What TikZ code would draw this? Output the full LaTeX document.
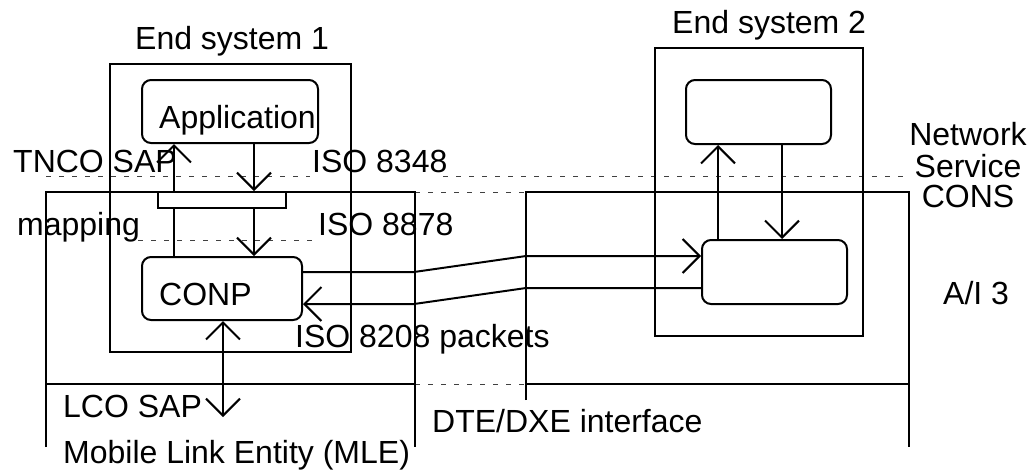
\documentclass[tikz,border=0pt]{standalone}
\usepackage{fontspec}
\setmainfont{Liberation Sans}
\usetikzlibrary{arrows.meta}
\begin{document}
\begin{tikzpicture}[x=1pt,y=-1pt,
  frame/.style={line width=2pt},
  sbox/.style={draw, rectangle, line width=2pt, inner sep=0pt},
  rbox/.style={sbox, rounded corners=9pt},
  lbl/.style={anchor=base west, inner sep=0pt, font=\fontsize{32}{38}\selectfont},
  clbl/.style={lbl, anchor=base},
  barb/.tip={Straight Barb[length=17pt,width=34pt,line width=2pt]},
  arr/.style={line width=2pt, -barb},
  darr/.style={line width=2pt, barb-barb},
  sep/.style={draw=black!75, line width=0.9pt, dash pattern=on 5pt off 8pt},
]
\useasboundingbox (0,0) rectangle (1035,475);

% layer boundaries
\draw[sep] (46,176) -- (310,176);
\draw[sep] (443,176) -- (907,176);
\draw[sep] (138,240) -- (316,240);
\draw[sep] (415,192) -- (526,192);
\draw[sep] (415,384) -- (526,384);

% end systems
\node[sbox, minimum width=241pt, minimum height=288pt] (es1) at (230.5,208) {};
\node[sbox, minimum width=208pt, minimum height=288pt] (es2) at (759,192) {};

% mobile link entity and the network side
\draw[frame] (46,447) -- (46,192) -- (415,192) -- (415,447);
\draw[frame] (46,384) -- (415,384);
\draw[frame] (526,400) -- (526,192) -- (909,192) -- (909,447);
\draw[frame] (526,384) -- (909,384);

% entities of end system 1
\node[rbox, minimum width=176pt, minimum height=63pt] (app) at (230,111.5) {};
\node[sbox, fill=white, minimum width=128pt, minimum height=16pt] (bar) at (222,200) {};
\node[rbox, minimum width=160pt, minimum height=63pt] (conp) at (222,288.5) {};

% entities of end system 2
\node[rbox, minimum width=145pt, minimum height=64pt] (app2) at (758.5,112) {};
\node[rbox, minimum width=145pt, minimum height=64pt] (conp2) at (774.5,272) {};

% vertical service paths
\coordinate (xl) at (174,0);
\coordinate (xr) at (254,0);
\coordinate (xm) at (223,0);
\coordinate (lco) at (223,417);
\draw[arr] (bar.north -| xl) -- (app.south -| xl);
\draw[arr] (app.south -| xr) -- (bar.north -| xr);
\draw[frame] (bar.south -| xl) -- (conp.north -| xl);
\draw[arr] (bar.south -| xr) -- (conp.north -| xr);
\draw[darr] (conp.south -| xm) -- (lco);

\coordinate (yl) at (718,0);
\coordinate (yr) at (782,0);
\draw[arr] (conp2.north -| yl) -- (app2.south -| yl);
\draw[arr] (app2.south -| yr) -- (conp2.north -| yr);

% packet exchange between the two CONP entities
\coordinate (k1) at (414,272);
\coordinate (k2) at (526,256);
\coordinate (k3) at (414,304);
\coordinate (k4) at (526,288);
\draw[arr] (conp.east |- k1) -- (k1) -- (k2) -- (conp2.west |- k2);
\draw[arr] (conp2.west |- k4) -- (k4) -- (k3) -- (conp.east |- k3);

% labels
\node[lbl] (t-es1) at (135,49) {End system 1};
\node[lbl] (t-es2) at (672,33) {End system 2};
\node[lbl] (t-app) at (159,128) {Application};
\node[lbl] (t-tnco) at (13,172) {TNCO SAP};
\node[lbl] (t-8348) at (312,172) {ISO 8348};
\node[lbl] (t-map) at (17,235) {mapping};
\node[lbl] (t-8878) at (318,235) {ISO 8878};
\node[lbl] (t-conp) at (159,305) {CONP};
\node[lbl] (t-8208) at (295,347) {ISO 8208 packets};
\node[lbl] (t-lco) at (63,417) {LCO SAP};
\node[lbl] (t-mle) at (63,463) {Mobile Link Entity (MLE)};
\node[lbl] (t-dte) at (432,432) {DTE/DXE interface};
\node[clbl] (t-ns1) at (968,145) {Network};
\node[clbl] (t-ns2) at (968,177) {Service};
\node[clbl] (t-ns3) at (968,207) {CONS};
\node[lbl] (t-ai) at (943,304) {A/I 3};
\end{tikzpicture}
\end{document}
